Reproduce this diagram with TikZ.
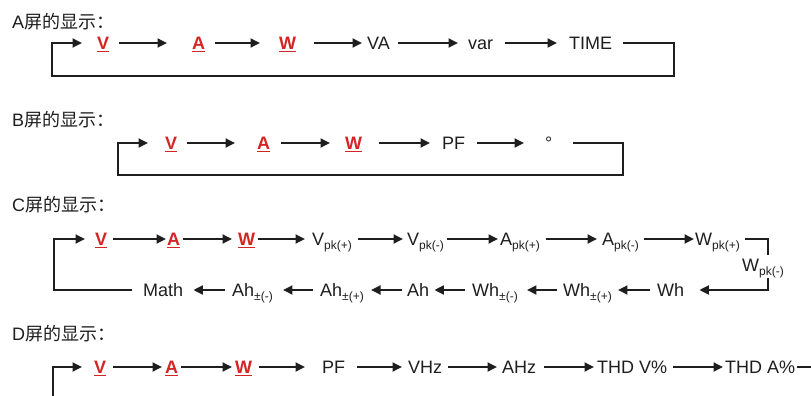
\documentclass[tikz,border=0pt]{standalone}
\usepackage{fontspec}
\setmainfont{Liberation Sans}
\newfontfamily\cjk{Noto Sans CJK SC}
\usepackage{xcolor}
\usepackage{tikz}
\usetikzlibrary{arrows.meta,calc}
\definecolor{ink}{RGB}{30,30,30}
\definecolor{keyred}{RGB}{212,36,36}
\newcommand{\lowtag}[1]{\raisebox{-3.5pt}{\fontsize{12}{12}\selectfont #1}}

\begin{document}
\begin{tikzpicture}[
  x=1pt,y=-1pt,
  title/.style={anchor=west,inner sep=0pt,text=ink,font=\fontsize{18}{18}\selectfont},
  lab/.style={anchor=west,inner sep=0pt,text height=13pt,text depth=0pt,text=ink,
              font=\fontsize{18}{18}\selectfont},
  key/.style={lab,text=keyred,font=\fontsize{18}{18}\selectfont\bfseries},
  ln/.style={draw=ink,line width=1.8pt},
  arr/.style={ln,-{Triangle[length=9.5pt,width=9pt]}},
  gap/.style 2 args={shorten <=#1pt,shorten >=#2pt}]

\useasboundingbox (0,0) rectangle (811,396);

% ================= A screen =================
\begin{scope}
  \node[title] (tA) at (12,22) {A{\cjk 屏的显示：}};
  \node[key] (vA) at (97,43) {\underline{V}};
  \node[key] (aA) at (192,43) {\underline{A}};
  \node[key] (wA) at (279,43) {\underline{W}};
  \node[lab] (vaA) at (367,43) {VA};
  \node[lab] (varA) at (468,43) {var};
  \node[lab] (timeA) at (569,43) {TIME};
  \coordinate (rA) at (674,76);
  \coordinate (lA) at (52,76);
  \draw[arr,gap={10}{25}] (vA) -- (aA);
  \draw[arr,gap={10}{19}] (aA) -- (wA);
  \draw[arr,gap={18}{5}] (wA) -- (vaA);
  \draw[arr,gap={8}{10}] (vaA) -- (varA);
  \draw[arr,gap={12}{12}] (varA) -- (timeA);
  % way back
  \draw[arr,gap={11}{15}] (timeA) -| (rA) -- (lA) |- (vA);
\end{scope}

% ================= B screen =================
\begin{scope}
  \node[title] (tB) at (12,120) {B{\cjk 屏的显示：}};
  \node[key] (vB) at (165,143) {\underline{V}};
  \node[key] (aB) at (257,143) {\underline{A}};
  \node[key] (wB) at (345,143) {\underline{W}};
  \node[lab] (pfB) at (442,143) {PF};
  \node[lab] (degB) at (545,143) {°};
  \coordinate (rB) at (623,175);
  \coordinate (lB) at (118,175);
  \draw[arr,gap={10}{22}] (vB) -- (aB);
  \draw[arr,gap={11}{15}] (aB) -- (wB);
  \draw[arr,gap={17}{12}] (wB) -- (pfB);
  \draw[arr,gap={12}{21}] (pfB) -- (degB);
  \draw[arr,gap={20}{17}] (degB) -| (rB) -- (lB) |- (vB);
\end{scope}

% ================= C screen =================
\begin{scope}
  \node[title] (tC) at (12,205) {C{\cjk 屏的显示：}};
  % upper row
  \node[key] (vC) at (95,239) {\underline{V}};
  \node[key] (aC) at (167,239) {\underline{A}};
  \node[key] (wC) at (238,239) {\underline{W}};
  \node[lab] (vpC) at (312,239) {V\lowtag{pk(+)}};
  \node[lab] (vmC) at (407,239) {V\lowtag{pk(-)}};
  \node[lab] (apC) at (500,239) {A\lowtag{pk(+)}};
  \node[lab] (amC) at (602,239) {A\lowtag{pk(-)}};
  \node[lab] (wpC) at (695,239) {W\lowtag{pk(+)}};
  \node[lab] (wmC) at (742,265) {W\lowtag{pk(-)}};
  % lower row
  \node[lab] (whC) at (657,290) {Wh};
  \node[lab] (whpC) at (563,290) {Wh\lowtag{±(+)}};
  \node[lab] (whmC) at (472,290) {Wh\lowtag{±(-)}};
  \node[lab] (ahC) at (407,290) {Ah};
  \node[lab] (ahpC) at (320,290) {Ah\lowtag{±(+)}};
  \node[lab] (ahmC) at (232,290) {Ah\lowtag{±(-)}};
  \node[lab] (mathC) at (143,290) {Math};
  \coordinate (lC) at (54,290);
  \draw[arr,gap={6}{1}] (vC) -- (aC);
  \draw[arr,gap={3}{6}] (aC) -- (wC);
  \draw[arr,gap={3}{7}] (wC) -- (vpC);
  \draw[arr,gap={6}{4}] (vpC) -- (vmC);
  \draw[arr,gap={3}{2}] (vmC) -- (apC);
  \draw[arr,gap={6}{5}] (apC) -- (amC);
  \draw[arr,gap={5}{1}] (amC) -- (wpC);
  \draw[ln,gap={5}{3}] (wpC) -| ([xshift=5pt]wmC.north);
  \draw[arr,gap={6}{15}] ([xshift=5pt]wmC.south) |- (whC);
  \draw[arr,gap={7}{6}] (whC) -- (whpC);
  \draw[arr,gap={6}{9}] (whpC) -- (whmC);
  \draw[arr,gap={7}{5}] (whmC) -- (ahC);
  \draw[arr,gap={5}{7}] (ahC) -- (ahpC);
  \draw[arr,gap={7}{10}] (ahpC) -- (ahmC);
  \draw[arr,gap={7}{10}] (ahmC) -- (mathC);
  \draw[arr,gap={11}{10}] (mathC) -- (lC) |- (vC);
\end{scope}

% ================= D screen =================
\begin{scope}
  \node[title] (tD) at (12,334) {D{\cjk 屏的显示：}};
  \node[key] (vD) at (94,367) {\underline{V}};
  \node[key] (aD) at (165,367) {\underline{A}};
  \node[key] (wD) at (235,367) {\underline{W}};
  \node[lab] (pfD) at (322,367) {PF};
  \node[lab] (vhzD) at (408,367) {VHz};
  \node[lab] (ahzD) at (502,367) {AHz};
  \node[lab] (thdvD) at (597,367) {THD V\%};
  \node[lab] (thdaD) at (725,367) {THD A\%};
  \coordinate (lD) at (53,402);
  \coordinate (rD) at (813,367);
  \draw[arr,gap={0}{12}] (lD) |- (vD);
  \draw[arr,gap={7}{3}] (vD) -- (aD);
  \draw[arr,gap={3}{3}] (aD) -- (wD);
  \draw[arr,gap={7}{17}] (wD) -- (pfD);
  \draw[arr,gap={12}{6}] (pfD) -- (vhzD);
  \draw[arr,gap={6}{5}] (vhzD) -- (ahzD);
  \draw[arr,gap={8}{3}] (ahzD) -- (thdvD);
  \draw[arr,gap={6}{2}] (thdvD) -- (thdaD);
  \draw[ln,gap={2}{0}] (thdaD) -- (rD);
\end{scope}
\end{tikzpicture}
\end{document}
